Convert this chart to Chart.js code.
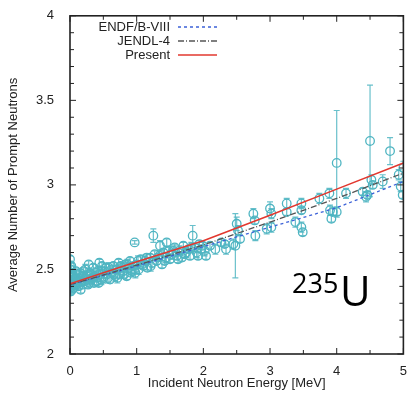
<!DOCTYPE html>
<html>
<head>
<meta charset="utf-8">
<script src="https://cdn.jsdelivr.net/npm/chart.js@4.4.1/dist/chart.umd.min.js"></script>
<style>
  html, body { margin: 0; padding: 0; background: #fff; }
  #wrap { position: relative; width: 409px; height: 396px; }
</style>
</head>
<body>
<div id="wrap"><canvas id="nuChart" width="409" height="396"></canvas></div>
<script>
// ---------- DATA ----------
// measured prompt nu-bar for U-235: energy [MeV], value, 1-sigma
const energy = [
  0.00, 0.00, 0.00, 0.00, 0.00, 0.00, 0.01, 0.01, 0.02, 0.03, 0.04, 0.05, 0.06,
  0.08, 0.10, 0.12, 0.14, 0.16, 0.18, 0.20, 0.22, 0.25, 0.27, 0.28, 0.30, 0.32, 0.35, 0.37, 0.40, 0.42, 0.44, 0.45, 0.48, 0.50,
  0.52, 0.55, 0.58, 0.60, 0.63, 0.65, 0.68, 0.70, 0.73, 0.75, 0.78, 0.80, 0.83, 0.85, 0.88, 0.90, 0.93, 0.95, 0.97, 0.98,
  1.00, 1.03, 1.06, 1.10, 1.13, 1.16, 1.20, 1.23, 1.25, 1.27, 1.30, 1.34, 1.35, 1.38, 1.40, 1.44, 1.45, 1.48, 1.50, 1.53,
  1.57, 1.60, 1.64, 1.68, 1.70, 1.74, 1.78, 1.80, 1.84, 1.87, 1.90, 1.94, 1.97,
  2.02, 2.04, 2.10, 2.18, 2.27, 2.32, 2.34, 2.45, 2.48, 2.50, 2.52, 2.55, 2.75, 2.77, 2.78, 2.95, 3.00, 3.02, 3.02,
  3.25, 3.25, 3.38, 3.47, 3.47, 3.47, 3.49, 3.74, 3.89, 3.90, 3.92, 3.94, 4.00, 4.00,
  4.14, 4.39, 4.44, 4.46, 4.50, 4.52, 4.54, 4.69, 4.80, 4.93, 4.96, 4.99, 5.00,
  0.00, 0.00, 0.02, 0.03, 0.05, 0.07, 0.09, 0.11, 0.13, 0.15, 0.17, 0.19, 0.21, 0.23, 0.26, 0.29, 0.31, 0.34, 0.36, 0.39,
  0.41, 0.43, 0.47, 0.49, 0.54, 0.57, 0.62, 0.66, 0.71, 0.76, 0.81, 0.86, 0.91, 0.96, 1.02, 1.08, 1.15, 1.21, 1.32, 1.42,
  1.55, 1.62, 1.72, 1.82, 1.92, 1.99
];
const nuMeas = [
  2.42, 2.45, 2.39, 2.48, 2.52, 2.56, 2.50, 2.37, 2.44, 2.41, 2.47, 2.39, 2.43,
  2.45, 2.41, 2.47, 2.43, 2.38, 2.46, 2.49, 2.43, 2.46, 2.41, 2.53, 2.48, 2.44, 2.51, 2.46, 2.43, 2.49, 2.54, 2.47, 2.52, 2.45,
  2.49, 2.47, 2.51, 2.44, 2.48, 2.52, 2.46, 2.50, 2.54, 2.47, 2.51, 2.49, 2.53, 2.46, 2.51, 2.55, 2.49, 2.52, 2.66, 2.48,
  2.53, 2.50, 2.56, 2.52, 2.55, 2.51, 2.57, 2.54, 2.70, 2.59, 2.55, 2.58, 2.64, 2.53, 2.60, 2.57, 2.66, 2.61, 2.56, 2.59,
  2.63, 2.58, 2.61, 2.57, 2.64, 2.60, 2.62, 2.58, 2.70, 2.63, 2.60, 2.65, 2.62,
  2.61, 2.58, 2.64, 2.62, 2.66, 2.65, 2.62, 2.65, 2.64, 2.77, 2.73, 2.68, 2.83, 2.79, 2.70, 2.74, 2.86, 2.83, 2.75,
  2.89, 2.84, 2.78, 2.89, 2.85, 2.75, 2.72, 2.92, 2.95, 2.85, 2.80, 2.84, 3.13, 2.84,
  2.95, 2.96, 2.93, 2.94, 3.26, 3.03, 3.00, 3.02, 3.20, 3.06, 2.99, 2.94, 3.10,
  2.40, 2.47, 2.52, 2.38, 2.46, 2.41, 2.49, 2.44, 2.40, 2.48, 2.43, 2.41, 2.46, 2.50, 2.44, 2.42, 2.47, 2.45, 2.42, 2.48,
  2.45, 2.42, 2.44, 2.49, 2.51, 2.45, 2.50, 2.47, 2.45, 2.52, 2.47, 2.53, 2.48, 2.50, 2.55, 2.53, 2.57, 2.52, 2.57, 2.55,
  2.61, 2.56, 2.59, 2.63, 2.58, 2.64
];
const nuErr = [
  0.02, 0.03, 0.02, 0.02, 0.03, 0.02, 0.02, 0.02, 0.02, 0.03, 0.02, 0.02, 0.03,
  0.02, 0.03, 0.02, 0.02, 0.02, 0.03, 0.02, 0.02, 0.03, 0.02, 0.02, 0.02, 0.03, 0.02, 0.02, 0.02, 0.03, 0.02, 0.02, 0.02, 0.03,
  0.02, 0.02, 0.03, 0.02, 0.02, 0.02, 0.03, 0.02, 0.02, 0.02, 0.03, 0.02, 0.02, 0.02, 0.03, 0.02, 0.02, 0.02, 0.01, 0.03,
  0.02, 0.03, 0.02, 0.02, 0.03, 0.02, 0.02, 0.03, 0.04, 0.02, 0.02, 0.03, 0.03, 0.02, 0.02, 0.03, 0.02, 0.02, 0.02, 0.03,
  0.02, 0.02, 0.03, 0.02, 0.02, 0.03, 0.02, 0.02, 0.06, 0.02, 0.03, 0.02, 0.02,
  0.03, 0.02, 0.02, 0.03, 0.02, 0.02, 0.03, 0.03, 0.19, 0.04, 0.03, 0.02, 0.03, 0.02, 0.03, 0.03, 0.04, 0.03, 0.03,
  0.03, 0.02, 0.03, 0.03, 0.02, 0.03, 0.02, 0.03, 0.03, 0.03, 0.02, 0.02, 0.31, 0.03,
  0.03, 0.02, 0.03, 0.02, 0.33, 0.03, 0.02, 0.04, 0.08, 0.03, 0.03, 0.02, 0.04,
  0.03, 0.02, 0.02, 0.02, 0.03, 0.02, 0.02, 0.03, 0.02, 0.02, 0.03, 0.02, 0.02, 0.03, 0.02, 0.02, 0.03, 0.02, 0.02, 0.03,
  0.02, 0.02, 0.03, 0.02, 0.02, 0.03, 0.02, 0.02, 0.03, 0.02, 0.02, 0.03, 0.02, 0.02, 0.03, 0.02, 0.02, 0.03, 0.02, 0.02,
  0.03, 0.02, 0.02, 0.03, 0.02, 0.02
];

// evaluated curves
const endfE   = [0, 0.002, 0.004, 0.006, 0.01, 1, 2, 3, 4, 5];
const endfNu  = [2.44, 2.35, 2.43, 2.37, 2.41, 2.52, 2.635, 2.75, 2.865, 3.02];
const jendlE  = [0, 1, 2, 3, 4, 5];
const jendlNu = [2.41, 2.525, 2.645, 2.78, 2.92, 3.07];
const presE   = [0, 1, 2, 3, 4, 5];
const presNu  = [2.415, 2.545, 2.67, 2.82, 2.975, 3.13];

const legendRows = [
  { label: "ENDF/B-VIII", color: "#3d62d8", dash: [3, 3] },
  { label: "JENDL-4",     color: "#555555", dash: [6, 2, 1, 2] },
  { label: "Present",     color: "#e2382f", dash: [] }
];

const xTickLabels = [0, 1, 2, 3, 4, 5];
const yTickLabels = [2, 2.5, 3, 3.5, 4];

const FONT = "'Liberation Sans', Arial, Helvetica, sans-serif";
const DATA_COLOR = "#4fb5c2";

const toXY = (xs, ys) => xs.map((x, i) => ({ x: x, y: ys[i] }));

// ---------- PLUGINS ----------
const errorBars = {
  id: "errorBars",
  beforeDatasetsDraw(chart) {
    const { ctx, chartArea: a, scales: { x, y } } = chart;
    ctx.save();
    ctx.beginPath();
    ctx.rect(a.left, a.top, a.right - a.left, a.bottom - a.top);
    ctx.clip();
    ctx.strokeStyle = "rgba(79,181,194,0.85)";
    ctx.lineWidth = 1.2;
    energy.forEach((e, i) => {
      const px = x.getPixelForValue(e);
      const lo = y.getPixelForValue(nuMeas[i] - nuErr[i]);
      const hi = y.getPixelForValue(nuMeas[i] + nuErr[i]);
      ctx.beginPath();
      ctx.moveTo(px, lo); ctx.lineTo(px, hi);
      ctx.moveTo(px - 3, lo); ctx.lineTo(px + 3, lo);
      ctx.moveTo(px - 3, hi); ctx.lineTo(px + 3, hi);
      ctx.stroke();
    });
    ctx.restore();
  }
};

const frameAndLabels = {
  id: "frameAndLabels",
  afterDraw(chart) {
    const { ctx, chartArea: a, scales: { x, y } } = chart;
    ctx.save();
    ctx.strokeStyle = "#222";
    ctx.lineWidth = 1;
    // inward ticks on all four sides
    for (let k = 0; k <= 10; k++) {
      const v = k * 0.5, px = x.getPixelForValue(v), len = k % 2 === 0 ? 6 : 4;
      ctx.beginPath();
      ctx.moveTo(px, a.bottom); ctx.lineTo(px, a.bottom - len);
      ctx.moveTo(px, a.top); ctx.lineTo(px, a.top + len);
      ctx.stroke();
    }
    for (let k = 0; k <= 20; k++) {
      const v = 2 + k * 0.1, py = y.getPixelForValue(v), len = k % 5 === 0 ? 6 : 4;
      ctx.beginPath();
      ctx.moveTo(a.left, py); ctx.lineTo(a.left + len, py);
      ctx.moveTo(a.right, py); ctx.lineTo(a.right - len, py);
      ctx.stroke();
    }
    ctx.lineWidth = 1.6;
    ctx.strokeRect(a.left, a.top, a.right - a.left, a.bottom - a.top);

    // legend, top left inside the frame
    ctx.font = "13px " + FONT;
    ctx.textAlign = "right";
    ctx.textBaseline = "middle";
    legendRows.forEach((r, i) => {
      const ry = 27 + i * 14;
      ctx.fillStyle = "#222";
      ctx.fillText(r.label, 170, ry);
      ctx.strokeStyle = r.color;
      ctx.lineWidth = 1.3;
      ctx.setLineDash(r.dash);
      ctx.beginPath();
      ctx.moveTo(178, ry); ctx.lineTo(217, ry);
      ctx.stroke();
    });
    ctx.setLineDash([]);

    // isotope tag
    ctx.fillStyle = "#000";
    ctx.textAlign = "left";
    ctx.textBaseline = "alphabetic";
    ctx.font = "27px 'Open Sans', 'Noto Sans', sans-serif";
    ctx.fillText("235", 292, 293);
    ctx.font = "42px 'Open Sans', 'Noto Sans', sans-serif";
    ctx.fillText("U", 340, 306);
    ctx.restore();
  }
};

// ---------- CHART ----------
new Chart(document.getElementById("nuChart").getContext("2d"), {
  type: "scatter",
  data: {
    datasets: [
      { type: "line", data: toXY(presE, presNu), borderColor: "#e2382f", borderWidth: 1.6,
        pointRadius: 0, tension: 0, order: 0 },
      { type: "line", data: toXY(jendlE, jendlNu), borderColor: "#555555", borderWidth: 1.3,
        borderDash: [6, 2, 1, 2], pointRadius: 0, tension: 0, order: 0 },
      { type: "line", data: toXY(endfE, endfNu), borderColor: "#3d62d8", borderWidth: 1.3,
        borderDash: [3, 3], pointRadius: 0, tension: 0, order: 0 },
      { data: toXY(energy, nuMeas), pointStyle: "circle", pointRadius: 4.3,
        borderColor: DATA_COLOR, backgroundColor: "rgba(0,0,0,0)", pointBorderWidth: 1.3, order: 1 }
    ]
  },
  options: {
    responsive: false, animation: false, maintainAspectRatio: false,
    layout: { padding: { top: 14, right: 5, left: 0, bottom: 0 } },
    plugins: { legend: { display: false }, tooltip: { enabled: false } },
    scales: {
      x: {
        type: "linear", min: 0, max: 5,
        grid: { display: false }, border: { display: false },
        afterFit(s) { s.height = 42; },
        afterBuildTicks(s) { s.ticks = xTickLabels.map(v => ({ value: v })); },
        ticks: { padding: 2, color: "#222", font: { family: FONT, size: 13 },
          callback: v => String(v) },
        title: { display: true, text: "Incident Neutron Energy [MeV]", color: "#222",
          font: { family: FONT, size: 13 }, padding: { bottom: 5 } }
      },
      y: {
        type: "linear", min: 2, max: 4,
        grid: { display: false }, border: { display: false },
        afterFit(s) { s.width = 70; },
        afterBuildTicks(s) { s.ticks = yTickLabels.map(v => ({ value: v })); },
        ticks: { padding: 8, color: "#222", font: { family: FONT, size: 13 },
          callback: v => String(v) },
        title: { display: true, text: "Average Number of Prompt Neutrons", color: "#222",
          font: { family: FONT, size: 13 }, padding: { top: 6 } }
      }
    }
  },
  plugins: [errorBars, frameAndLabels]
});
</script>
</body>
</html>
